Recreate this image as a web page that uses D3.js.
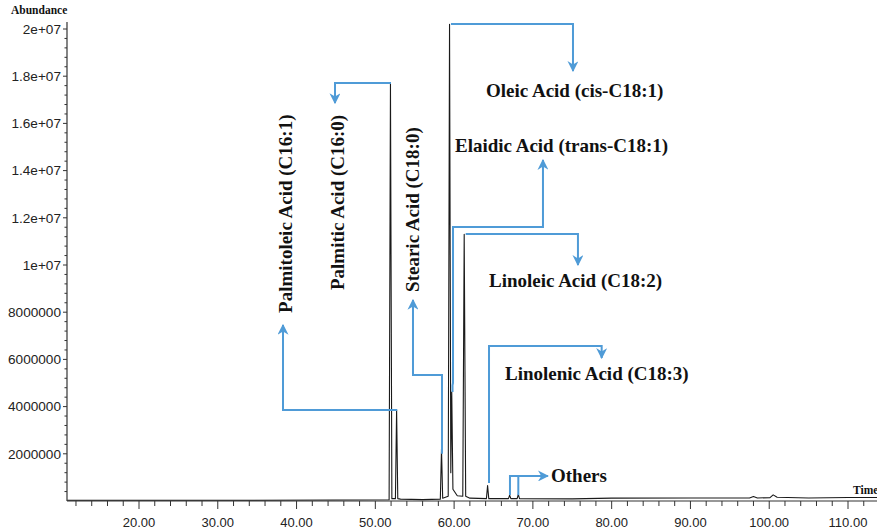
<!DOCTYPE html>
<html>
<head>
<meta charset="utf-8">
<script src="https://cdn.jsdelivr.net/npm/d3@7"></script>
<style>
  body { margin: 0; background: #fff; }
  svg { display: block; }
  .tick-label { font-family: "Liberation Sans", Arial, sans-serif; font-size: 13px; fill: #222; }
  .ytick { font-size: 13.6px; }
  .peak-label { font-family: "Liberation Serif", "Times New Roman", serif; font-weight: bold; font-size: 19px; fill: #111; }
  .axis-title { font-family: "Liberation Serif", "Times New Roman", serif; font-weight: bold; font-size: 11.5px; fill: #111; }
</style>
</head>
<body>
<div id="chart"></div>
<script>
// chromatogram trace, [retention time (min), abundance]
const trace = [
  [10.9, 0.03e6], [30, 0.03e6], [45, 0.04e6], [51.75, 0.05e6],
  [51.92, 17.7e6], [52.1, 0.1e6], [52.55, 0.1e6], [52.7, 3.86e6], [52.85, 0.1e6],
  [53.2, 0.08e6], [56, 0.06e6], [58.25, 0.08e6], [58.4, 2.2e6], [58.55, 0.12e6],
  [59.25, 0.2e6], [59.42, 20.2e6], [59.58, 1.2e6], [59.7, 4.62e6], [59.85, 0.5e6],
  [60.4, 0.22e6], [61.1, 0.2e6], [61.28, 11.3e6], [61.47, 0.2e6], [62, 0.12e6],
  [64.1, 0.1e6], [64.25, 0.65e6], [64.4, 0.1e6], [66.9, 0.1e6], [67.05, 0.25e6],
  [67.2, 0.1e6], [68.0, 0.1e6], [68.15, 0.28e6], [68.3, 0.1e6], [75, 0.09e6],
  [80, 0.12e6], [90, 0.13e6], [97.5, 0.13e6], [98, 0.19e6], [98.5, 0.13e6],
  [100.1, 0.14e6], [100.5, 0.26e6], [101, 0.16e6], [105, 0.13e6], [110, 0.15e6],
  [113.7, 0.15e6]
];

// axis ticks
const xMajorTicks = [20, 30, 40, 50, 60, 70, 80, 90, 100, 110];
const xTickLabels = ["20.00", "30.00", "40.00", "50.00", "60.00", "70.00", "80.00", "90.00", "100.00", "110.00"];
const yMajorTicks = [2e6, 4e6, 6e6, 8e6, 10e6, 12e6, 14e6, 16e6, 18e6, 20e6];
const yTickLabels = ["2000000", "4000000", "6000000", "8000000", "1e+07", "1.2e+07", "1.4e+07", "1.6e+07", "1.8e+07", "2e+07"];

// peak names and where they sit (data units)
const peakNames = [
  "Palmitoleic Acid (C16:1)", "Palmitic Acid (C16:0)", "Stearic Acid (C18:0)",
  "Oleic Acid (cis-C18:1)", "Elaidic Acid (trans-C18:1)", "Linoleic Acid (C18:2)",
  "Linolenic Acid (C18:3)", "Others"
];
const labelAt = [
  [39.42, 7.97e6], [46.02, 8.94e6], [55.54, 8.86e6],
  [64.05, 17.12e6], [60.11, 14.79e6], [64.43, 9.07e6],
  [66.46, 5.13e6], [72.3, 0.81e6]
];
const labelRotated = [true, true, true, false, false, false, false, false];

// blue pointer lines, peak -> label (data units), last point carries the arrow
const pointers = [
  [[52.78, 3.86e6], [38.28, 3.86e6], [38.28, 7.46e6]],
  [[51.99, 17.71e6], [44.88, 17.71e6], [44.88, 16.86e6]],
  [[58.46, 2.0e6], [58.46, 5.34e6], [54.78, 5.34e6], [54.78, 8.52e6]],
  [[59.6, 20.21e6], [75.09, 20.21e6], [75.09, 18.22e6]],
  [[59.8, 4.62e6], [59.8, 4.9e6], [59.86, 5.0e6], [59.86, 11.61e6], [71.28, 11.61e6], [71.28, 14.45e6]],
  [[61.47, 11.31e6], [75.72, 11.31e6], [75.72, 10.0e6]],
  [[64.43, 0.76e6], [64.43, 6.57e6], [78.73, 6.57e6], [78.73, 6.06e6]],
  [[67.09, 0.25e6], [67.09, 1.06e6], [71.9, 1.06e6]]
];
const extraLines = [
  [[68.15, 0.25e6], [68.15, 1.06e6]]
];

const W = 877, H = 530;
const blue = "#4f9bd7";

const svg = d3.select("#chart").append("svg")
  .attr("width", W)
  .attr("height", H);

const x = d3.scaleLinear().domain([20, 110]).range([139, 848]);
const y = d3.scaleLinear().domain([0, 2e7]).range([501, 29]);
const xMin = 10.86, xMax = 113.7, yTop = 2.03e7;

// arrow head
svg.append("defs").append("marker")
  .attr("id", "arrow")
  .attr("viewBox", "0 0 10 10")
  .attr("refX", 9)
  .attr("refY", 5)
  .attr("markerUnits", "userSpaceOnUse")
  .attr("markerWidth", 11)
  .attr("markerHeight", 11)
  .attr("orient", "auto")
  .append("path")
  .attr("d", "M0,0 L10,5 L0,10 L3,5 Z")
  .attr("fill", blue);

//***********************************************
// axes
const axisG = svg.append("g").attr("stroke", "#333").attr("stroke-width", 1.2);

axisG.append("line")
  .attr("x1", x(xMin)).attr("x2", x(xMax))
  .attr("y1", y(0)).attr("y2", y(0));
axisG.append("line")
  .attr("x1", x(xMin)).attr("x2", x(xMin))
  .attr("y1", y(0)).attr("y2", y(yTop));

const xMinor = d3.range(12, 114, 2);
axisG.selectAll(".xminor")
  .data(xMinor)
  .enter().append("line")
  .attr("x1", d => x(d)).attr("x2", d => x(d))
  .attr("y1", y(0))
  .attr("y2", d => y(0) + (d % 10 === 0 ? 8 : 5))
  .attr("stroke-width", 1);

svg.selectAll(".xlab")
  .data(xMajorTicks)
  .enter().append("text")
  .attr("class", "tick-label")
  .attr("x", d => x(d))
  .attr("y", 527)
  .attr("text-anchor", "middle")
  .text((d, i) => xTickLabels[i]);

const yMinor = d3.range(4e5, 2.03e7, 4e5);
axisG.selectAll(".yminor")
  .data(yMinor)
  .enter().append("line")
  .attr("x1", x(xMin))
  .attr("x2", (d, i) => x(xMin) - ((i + 1) % 5 === 0 ? 4 : 2.5))
  .attr("y1", d => y(d)).attr("y2", d => y(d))
  .attr("stroke-width", 1);

svg.selectAll(".ylab")
  .data(yMajorTicks)
  .enter().append("text")
  .attr("class", "tick-label ytick")
  .attr("x", x(xMin) - 6)
  .attr("y", d => y(d))
  .attr("dy", "0.36em")
  .attr("text-anchor", "end")
  .text((d, i) => yTickLabels[i]);

svg.append("text")
  .attr("class", "axis-title")
  .attr("x", 11)
  .attr("y", 14)
  .text("Abundance");

svg.append("text")
  .attr("class", "axis-title")
  .attr("x", 853)
  .attr("y", 494)
  .text("Time");

//***********************************************
// chromatogram
const line = d3.line()
  .x(d => x(d[0]))
  .y(d => y(d[1]));

svg.append("path")
  .datum(trace)
  .attr("d", line)
  .attr("fill", "none")
  .attr("stroke", "#1a1a1a")
  .attr("stroke-width", 1.1)
  .attr("stroke-linejoin", "round");

//***********************************************
// pointers and labels
svg.selectAll(".pointer")
  .data(pointers)
  .enter().append("path")
  .attr("d", line)
  .attr("fill", "none")
  .attr("stroke", blue)
  .attr("stroke-width", 2)
  .attr("marker-end", "url(#arrow)");

svg.selectAll(".extra")
  .data(extraLines)
  .enter().append("path")
  .attr("d", line)
  .attr("fill", "none")
  .attr("stroke", blue)
  .attr("stroke-width", 2);

svg.selectAll(".peak-label")
  .data(peakNames)
  .enter().append("text")
  .attr("class", "peak-label")
  .attr("transform", (d, i) => {
    const px = x(labelAt[i][0]), py = y(labelAt[i][1]);
    return "translate(" + px + "," + py + ")" + (labelRotated[i] ? " rotate(-90)" : "");
  })
  .text(d => d);
</script>
</body>
</html>
